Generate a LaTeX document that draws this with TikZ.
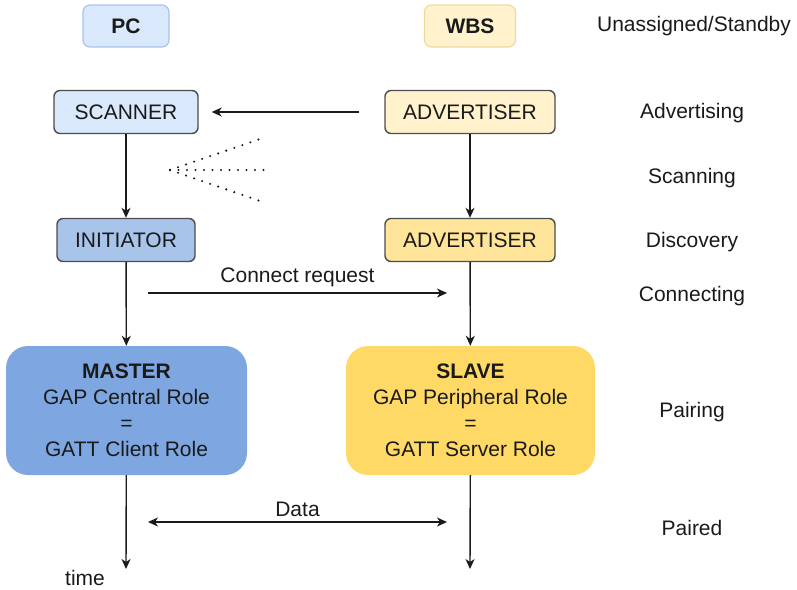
\documentclass[tikz,border=0pt]{standalone}
\usepackage{fontspec}
\setmainfont{Liberation Sans}
\usetikzlibrary{arrows.meta}
\definecolor{pcfill}{HTML}{DAE8FC}
\definecolor{pcline}{HTML}{A9C4EB}
\definecolor{wbsfill}{HTML}{FFF2CC}
\definecolor{wbsline}{HTML}{EED9A0}
\definecolor{initfill}{HTML}{A9C4EB}
\definecolor{adv2fill}{HTML}{FFE599}
\definecolor{masterfill}{HTML}{7EA6E0}
\definecolor{slavefill}{HTML}{FFD966}
\definecolor{edge}{HTML}{4D4D4D}
\definecolor{txt}{HTML}{1A1A1A}
\begin{document}
\begin{tikzpicture}[x=1pt,y=-1pt,
  every node/.style={font=\fontsize{21}{26}\selectfont, text=txt, inner sep=0pt},
  hdr/.style={draw, line width=1.2pt, rounded corners=7pt, font=\fontsize{21}{26}\selectfont\bfseries},
  rolebox/.style={draw=edge, line width=1.4pt, rounded corners=6pt, minimum height=43pt},
  bigbox/.style={rounded corners=22pt, minimum width=241pt, minimum height=129pt, align=center},
  arr/.style={draw=txt, line width=1.4pt, -{Stealth[length=10pt,width=9pt,inset=3pt]}},
  darr/.style={draw=txt, line width=1.4pt, {Stealth[length=10pt,width=9pt,inset=3pt]}-{Stealth[length=10pt,width=9pt,inset=3pt]}},
  fan/.style={draw=txt, line width=2.3pt, line cap=round, dash pattern=on 0pt off 8.5pt},
  phase/.style={}]
\useasboundingbox (0,0) rectangle (797,589);

% headers
\node[hdr, fill=pcfill, draw=pcline, minimum width=86pt, minimum height=42pt] (pc) at (126,26) {PC};
\node[hdr, fill=wbsfill, draw=wbsline, minimum width=91pt, minimum height=42pt] (wbs) at (470,26) {WBS};

% role boxes
\node[rolebox, fill=pcfill, minimum width=144pt] (scanner) at (126,112) {SCANNER};
\node[rolebox, fill=wbsfill, minimum width=170pt] (adv1) at (470,112) {ADVERTISER};
\node[rolebox, fill=initfill, minimum width=138pt] (init) at (126,240) {INITIATOR};
\node[rolebox, fill=adv2fill, minimum width=170pt] (adv2) at (470,240) {ADVERTISER};

% big boxes
\node[bigbox, fill=masterfill] (master) at (126.5,410.5) {\textbf{MASTER}\\GAP Central Role\\=\\GATT Client Role};
\node[bigbox, fill=slavefill, minimum width=249pt] (slave) at (470.5,410.5) {\textbf{SLAVE}\\GAP Peripheral Role\\=\\GATT Server Role};

% phase labels
\node[phase] (p1) at (694,26) {Unassigned/Standby};
\node[phase] (p2) at (692,113) {Advertising};
\node[phase] (p3) at (692,178) {Scanning};
\node[phase] (p4) at (692,242) {Discovery};
\node[phase] (p5) at (692,296) {Connecting};
\node[phase] (p6) at (692,412) {Pairing};
\node[phase] (p7) at (692,528) {Paired};

% coordinates
\coordinate (crL) at (148,293);
\coordinate (crR) at (447,293);
\coordinate (dL) at (148,522);
\coordinate (dR) at (447,522);
\coordinate (tL) at (126,569);
\coordinate (tR) at (470,569);
\coordinate (fo) at (170,170);
\coordinate (fa) at (260,139);
\coordinate (fb) at (265,170);
\coordinate (fc) at (260,201);

% connectors
\draw[arr, shorten <=25pt, shorten >=13pt] (adv1.west) -- (scanner.east);
\draw[arr] (scanner) -- (init);
\draw[arr] (adv1) -- (adv2);
\draw[arr] (init) -- (master);
\draw[arr] (adv2) -- (slave);
\draw[arr] (crL) -- node[above=5pt] (crlab) {Connect request} (crR);
\draw[darr] (dL) -- node[above=5pt] (dlab) {Data} (dR);
\draw[arr] (master) -- (tL);
\draw[arr] (slave) -- (tR);
\node (time) at (85,578) {time};

% scanning fan
\draw[fan] (fo) -- (fa);
\draw[fan] (fo) -- (fb);
\draw[fan] (fo) -- (fc);
\end{tikzpicture}
\end{document}
